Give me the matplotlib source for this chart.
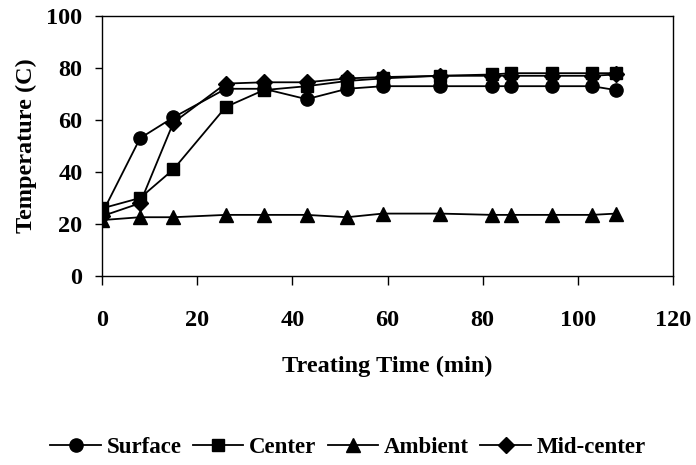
import numpy as np
import matplotlib
matplotlib.use('Agg')
import matplotlib.pyplot as plt

plt.rcParams['font.family'] = 'Liberation Serif'
plt.rcParams['font.weight'] = 'bold'

# treating time (min)
time = [0, 8, 15, 26, 34, 43, 51.5, 59, 71, 82, 86, 94.5, 103, 108]

surface = [24, 53, 61, 72, 72, 68, 72, 73, 73, 73, 73, 73, 73, 71.5]
center = [26, 30, 41, 65, 71.5, 73, 75, 76, 77, 77.5, 78, 78, 78, 78]
ambient = [21.5, 22.6, 22.6, 23.5, 23.5, 23.5, 22.6, 24, 24, 23.5, 23.5, 23.5, 23.5, 24]
midcenter = [23, 28, 59, 74, 74.5, 74.5, 76, 76.5, 77, 77, 77, 77, 77, 77.5]

fig = plt.figure(figsize=(6.96, 4.65), dpi=100)
ax = fig.add_axes([0.1466, 0.4065, 0.8204, 0.5591])

ax.plot(time, surface, 'k-', marker='o', ms=9.5, lw=1.3, label='Surface')
ax.plot(time, center, 'k-', marker='s', ms=9, lw=1.3, label='Center')
ax.plot(time, ambient, 'k-', marker='^', ms=10.5, lw=1.3, label='Ambient')
ax.plot(time, midcenter, 'k-', marker='D', ms=8, lw=1.3, label='Mid-center')

ax.set_xlim(0, 120)
ax.set_ylim(0, 100)
ax.set_xticks(np.arange(0, 121, 20))
ax.set_yticks(np.arange(0, 101, 20))
ax.tick_params(axis='x', direction='out', length=6.5, width=1, pad=18, labelsize=17.5)
ax.tick_params(axis='y', direction='out', length=5, width=1, pad=9, labelsize=17.5)
for s in ax.spines.values():
    s.set_linewidth(1)

ax.set_xlabel('Treating Time (min)', fontsize=17.5, fontweight='bold', labelpad=18)
ax.set_ylabel('Temperature (C)', fontsize=17.5, fontweight='bold', labelpad=7)

fig.legend(loc='center', bbox_to_anchor=(0.5, 0.038), ncol=4, frameon=False,
           fontsize=16.5, handlelength=2.2, handletextpad=0.25, columnspacing=0.5)

fig.savefig('out.png', dpi=100)
